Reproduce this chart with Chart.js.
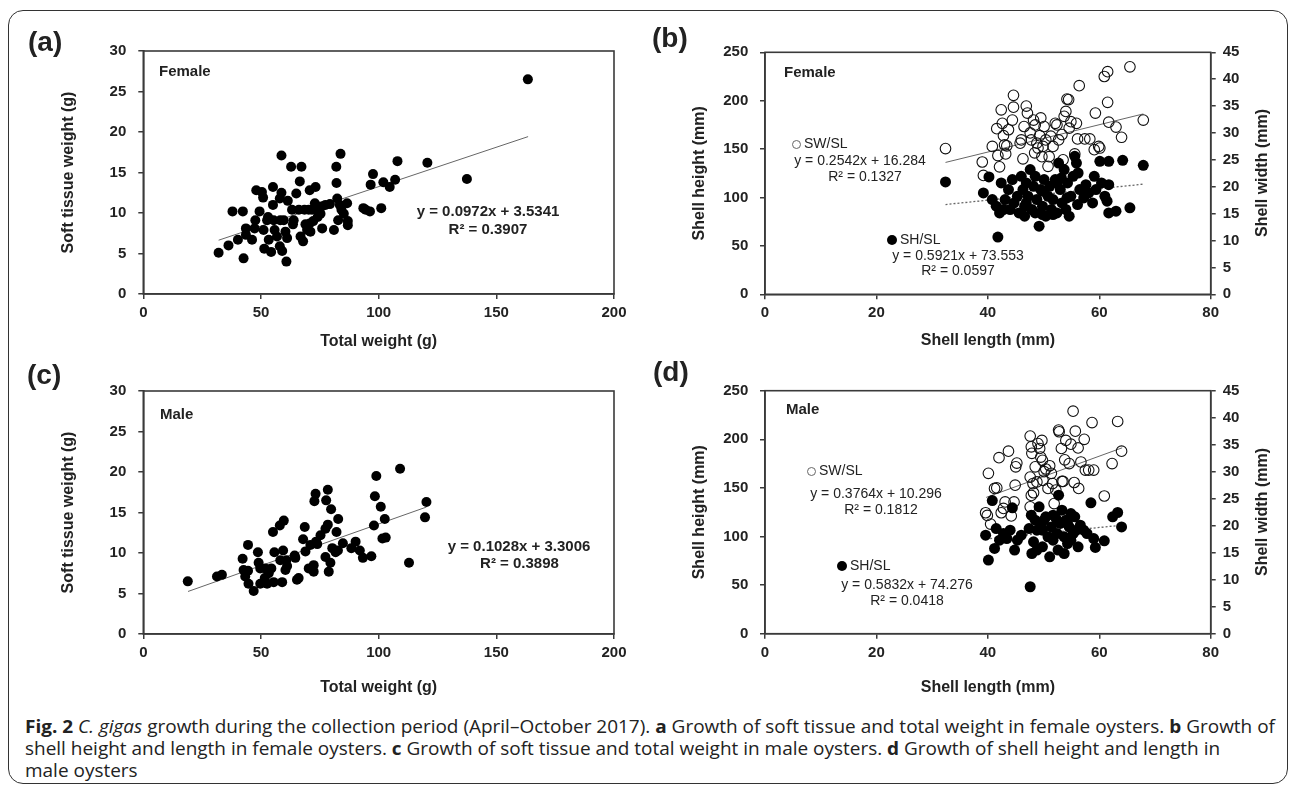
<!DOCTYPE html>
<html>
<head>
<meta charset="utf-8">
<script src="https://cdn.jsdelivr.net/npm/chart.js@4.4.0/dist/chart.umd.min.js"></script>
<style>
  html, body { margin: 0; padding: 0; background: #fff; }
  body { width: 1290px; height: 787px; position: relative; overflow: hidden; font-family: "Liberation Sans", Arial, sans-serif; color: #222; }
  canvas { position: absolute; }
  .frame { position: absolute; left: 8px; top: 10px; width: 1280px; height: 774px; box-sizing: border-box; border: 1.5px solid #333; border-radius: 15px; }
  .note { position: absolute; white-space: nowrap; line-height: 1; }
  .tag { font-size: 28px; font-weight: bold; }
  .sex { font-size: 15px; font-weight: bold; }
  .eqb { font-size: 15px; font-weight: bold; }
  .eq { font-size: 14px; }
  .mk { display: inline-block; width: 9px; height: 9px; border-radius: 50%; box-sizing: border-box; margin-right: 3px; vertical-align: -1px; }
  .mk.open { border: 1px solid #666; }
  .mk.fill { background: #000; width: 10px; height: 10px; }
  .rtitle { font-size: 16px; font-weight: bold; }
  .caption { position: absolute; left: 25px; top: 715px; font-family: "Open Sans", sans-serif; font-size: 18px; line-height: 22px; color: #222; white-space: nowrap; transform-origin: 0 0; }
</style>
</head>
<body>
<div class="frame"></div>
<canvas id="chartA" width="640" height="330" style="left:0px;top:30px"></canvas>
<canvas id="chartB" width="650" height="330" style="left:640px;top:30px"></canvas>
<canvas id="chartC" width="640" height="340" style="left:0px;top:370px"></canvas>
<canvas id="chartD" width="650" height="340" style="left:640px;top:370px"></canvas>
<div id="notes"></div>
<div class="caption" id="caption"><span id="capLine1"><b>Fig. 2</b> <i>C. gigas</i> growth during the collection period (April–October 2017). <b>a</b> Growth of soft tissue and total weight in female oysters. <b>b</b> Growth of</span><br>shell height and length in female oysters. <b>c</b> Growth of soft tissue and total weight in male oysters. <b>d</b> Growth of shell height and length in<br>male oysters</div>
<script>
// (a) female: total weight (g) vs soft tissue weight (g)
const femaleTotalWeight = [
  32, 36.2, 37.9, 40.2, 42.6, 42.3, 43.6, 43.6, 46.2, 47.3,
  47.6, 48, 49.4, 50.4, 50.9, 51.1, 51.4, 52.6, 53, 53.3,
  54.3, 55.1, 55.1, 55.4, 55.8, 56.8, 58, 58.7, 58.7, 58.2,
  58, 59, 59.7, 60.4, 60.8, 61.1, 61.4, 62.8, 63.2, 63.6,
  63.9, 65, 66.1, 66.5, 67.2, 66.8, 67.9, 68.5, 68.9, 69.6,
  70.3, 70.7, 70.7, 71, 71.7, 72.2, 73.2, 72.9, 73.6, 74.1,
  75.3, 75.7, 76, 77.4, 79.3, 81, 82, 82.1, 82.4, 82.8,
  83.5, 83.8, 84.2, 85.2, 86.6, 86.9, 86.9, 93.5, 94.5, 96.3,
  96.6, 97.6, 101.1, 102, 104.7, 107, 108, 120.7, 137.5, 163.4
];
const femaleSoftTissue = [
  5.1, 6.0, 10.2, 6.7, 4.4, 10.2, 8.1, 7.3, 6.7, 8.1,
  9.1, 12.8, 10.2, 12.6, 11.9, 7.9, 5.6, 9.1, 9.5, 6.7,
  5.2, 13.2, 11.0, 9.1, 7.9, 7.1, 11.8, 12.5, 17.1, 9.1,
  5.9, 5.3, 9.1, 7.7, 4.0, 6.9, 11.5, 15.7, 10.4, 8.6,
  9.1, 12.4, 10.4, 13.9, 15.7, 7.1, 6.5, 10.4, 8.6, 7.9,
  10.4, 12.8, 8.7, 7.7, 10.4, 9.0, 13.2, 11.2, 10.4, 9.5,
  9.9, 10.8, 8.1, 11.0, 11.1, 7.9, 15.7, 13.7, 11.8, 9.1,
  11.0, 17.3, 10.4, 9.9, 11.2, 9.0, 8.5, 10.6, 10.4, 10.2,
  13.5, 14.8, 10.6, 13.8, 13.2, 14.1, 16.4, 16.2, 14.2, 26.5
];
const femaleWeightFitX = [32, 163.5];
const femaleWeightFitY = [6.64, 19.43];

// (c) male: total weight (g) vs soft tissue weight (g)
const maleTotalWeight = [
  18.9, 31.3, 33.4, 42.2, 42.6, 44.5, 43.3, 44.7, 44.5, 46.9,
  48.7, 49, 49.7, 49.7, 51.6, 51.8, 52.6, 53.3, 54.4, 55.1,
  55.4, 55.7, 58, 59.7, 59, 58.2, 59.4, 60.4, 60.8, 61.1,
  64.3, 64.6, 65.3, 66, 67.9, 68.6, 68.9, 70.3, 71, 72.4,
  72.4, 72.7, 73.2, 73.4, 73.9, 75.3, 77.4, 77.7, 78.4, 78.4,
  77.4, 78.8, 79.5, 79.8, 80.3, 81.7, 82.1, 82.8, 82.7, 84.8,
  88.4, 90.2, 92, 93.3, 96.9, 98, 98.4, 99, 100.9, 101.6,
  102.6, 103, 109.1, 112.9, 119.7, 120.3
];
const maleSoftTissue = [
  6.5, 7.1, 7.3, 9.3, 7.9, 11.0, 7.1, 6.2, 7.8, 5.3,
  10.1, 8.8, 8.1, 6.2, 6.9, 8.1, 6.2, 7.5, 8.1, 12.6,
  6.4, 10.1, 13.4, 14.0, 6.4, 9.1, 10.3, 7.9, 9.1, 8.4,
  9.7, 9.4, 6.7, 6.9, 11.7, 13.2, 10.2, 8.1, 11.0, 8.5,
  7.7, 16.4, 17.3, 11.4, 11.1, 12.2, 13.0, 16.5, 17.8, 13.5,
  9.5, 7.7, 8.8, 15.4, 10.6, 10.1, 12.6, 14.2, 10.3, 11.2,
  10.6, 11.4, 10.3, 9.4, 9.6, 13.4, 17.0, 19.5, 15.7, 11.8,
  14.2, 11.9, 20.4, 8.8, 14.4, 16.3
];
const maleWeightFitX = [19, 120.3];
const maleWeightFitY = [5.25, 15.67];

// (b) female shell: SH/SL (left axis) and SW/SL (right axis)
const femaleShLength = [
  32.4, 39.2, 40.2, 41.8, 41.5, 42.1, 40.8, 42.8, 43.1, 42.4,
  43.7, 44.4, 44.7, 45.6, 46.0, 46.3, 46.6, 46.9, 47.2, 47.6,
  47.9, 48.2, 48.5, 48.8, 49.2, 49.5, 49.8, 50.1, 50.4, 50.8,
  51.1, 51.4, 51.7, 52.1, 52.4, 52.7, 53.0, 53.3, 53.7, 54.0,
  54.3, 54.6, 54.9, 55.3, 55.6, 55.9, 56.2, 56.5, 57.2, 58.1,
  58.8, 59.1, 59.4, 60.1, 61.4, 61.7, 61.7, 61.7, 63.0, 64.2,
  65.5, 67.9, 44.0, 45.3, 46.9, 49.8, 51.7, 52.4, 54.2, 56.1,
  57.6, 60.4, 61.0, 48.5, 46.6, 49.8, 53.2
];
const femaleShellHeight = [
  116.1, 104.7, 121.2, 59.1, 91.0, 84.1, 97.9, 87.6, 97.9, 115.0,
  108.2, 118.5, 94.4, 84.1, 121.9, 108.2, 80.7, 94.4, 101.3, 128.8,
  87.6, 111.6, 84.1, 97.9, 70.4, 108.2, 91.0, 118.5, 80.7, 101.3,
  111.6, 87.6, 97.9, 118.5, 84.1, 135.6, 108.2, 94.4, 128.8, 87.6,
  115.0, 80.7, 101.3, 121.9, 142.5, 135.6, 125.3, 108.2, 99.6, 104.7,
  94.4, 121.9, 108.2, 137.4, 96.2, 137.4, 113.3, 84.1, 85.9, 138.4,
  89.3, 133.2, 87.6, 101.3, 115.0, 106.5, 82.4, 115.0, 99.6, 92.7,
  113.3, 115.0, 101.3, 121.9, 91.0, 82.4, 120.2
];
const femaleSwLength = [
  32.4, 39.0, 39.2, 40.8, 41.6, 41.8, 42.1, 42.4, 42.6, 42.8,
  43.0, 43.2, 43.4, 43.7, 44.4, 44.6, 44.6, 45.8, 46.0, 46.3,
  46.5, 46.9, 47.1, 47.6, 47.8, 48.2, 48.4, 48.5, 48.8, 49.0,
  49.3, 49.5, 49.7, 49.9, 50.1, 50.4, 50.8, 51.0, 51.3, 51.7,
  52.1, 52.4, 52.7, 53.3, 53.5, 53.7, 54.0, 54.2, 54.5, 54.6,
  54.9, 55.6, 55.9, 56.1, 56.4, 57.4, 58.3, 59.3, 59.1, 59.9,
  60.1, 60.9, 61.5, 61.5, 61.7, 63.0, 64.0, 65.5, 67.9
];
const femaleShellWidth = [
  27.1, 24.6, 22.1, 27.5, 30.8, 25.8, 23.7, 34.3, 31.8, 29.5,
  27.8, 26.1, 27.6, 30.6, 32.4, 37.0, 34.8, 28.1, 28.7, 25.2,
  31.2, 35.0, 33.7, 30.0, 28.7, 32.4, 26.3, 31.5, 28.1, 27.2,
  29.5, 32.8, 25.6, 27.5, 31.2, 28.7, 23.8, 25.6, 29.4, 27.5,
  31.8, 31.5, 28.7, 29.7, 25.0, 33.1, 34.0, 36.3, 36.2, 30.9,
  32.1, 26.1, 31.8, 28.9, 38.8, 28.9, 28.9, 33.7, 26.9, 27.5,
  27.2, 40.5, 41.4, 35.7, 32.0, 31.1, 29.2, 42.3, 32.4
];
const femaleShellFitX = [32.4, 67.9];
const femaleShFitY = [92.74, 113.76];
const femaleSwFitY = [24.52, 33.54];

// (d) male shell: SH/SL (left axis) and SW/SL (right axis)
const maleShLength = [
  40.1, 39.6, 40.8, 41.2, 41.5, 42.1, 42.8, 43.4, 44.0, 44.4,
  44.8, 45.3, 46.0, 47.4, 47.6, 47.8, 47.9, 48.2, 48.5, 48.8,
  49.2, 49.5, 49.8, 50.1, 50.8, 51.1, 51.4, 51.7, 52.1, 52.4,
  52.6, 52.7, 53.0, 53.3, 53.7, 54.0, 54.3, 54.6, 54.9, 55.3,
  55.6, 55.9, 56.2, 56.6, 57.2, 57.8, 58.5, 59.0, 59.3, 60.9,
  62.4, 63.3, 64.0, 52.4, 53.7, 54.9, 48.8, 51.7, 54.3, 49.8,
  50.4
];
const maleShellHeight = [
  75.7, 101.4, 137.0, 87.7, 108.2, 96.2, 103.1, 97.9, 106.5, 129.5,
  86.0, 96.2, 101.4, 108.2, 48.3, 121.9, 82.5, 94.5, 116.8, 106.5,
  130.5, 109.9, 89.4, 116.8, 99.7, 79.1, 109.9, 96.2, 120.2, 103.1,
  86.0, 142.5, 113.4, 127.1, 99.7, 116.8, 92.8, 109.9, 123.6, 103.1,
  120.2, 106.5, 89.4, 111.6, 106.5, 103.1, 134.6, 97.9, 88.7, 95.5,
  120.2, 124.7, 109.9, 116.8, 82.5, 96.2, 86.0, 121.9, 113.4, 106.5,
  120.2
];
const maleSwLength = [
  39.6, 39.9, 40.1, 40.5, 41.2, 41.6, 42.0, 42.4, 42.8, 43.1,
  43.7, 44.2, 44.7, 44.9, 45.0, 45.2, 47.6, 47.6, 47.8, 47.9,
  47.6, 47.8, 48.1, 48.2, 48.5, 48.8, 49.0, 49.3, 49.5, 49.7,
  49.8, 49.9, 50.1, 50.4, 50.8, 51.1, 51.4, 51.6, 51.9, 52.2,
  52.7, 52.8, 53.2, 53.3, 53.5, 53.8, 54.0, 54.6, 54.9, 55.3,
  55.5, 55.7, 56.2, 56.3, 56.7, 57.3, 57.5, 58.1, 58.7, 59.0,
  60.9, 62.3, 63.3, 64.0
];
const maleShellWidth = [
  22.4, 21.9, 29.7, 20.3, 26.9, 27.0, 32.6, 22.4, 23.2, 24.4,
  33.8, 21.8, 24.4, 27.5, 30.9, 31.6, 23.5, 36.6, 34.6, 33.4,
  29.0, 25.6, 27.8, 26.1, 30.9, 28.1, 35.2, 34.3, 32.7, 35.8,
  32.1, 28.4, 30.0, 30.5, 26.9, 31.1, 29.7, 27.8, 24.1, 26.6,
  37.7, 37.4, 34.3, 28.2, 28.2, 32.2, 35.8, 31.5, 35.1, 41.2,
  28.0, 37.5, 34.4, 26.9, 31.8, 36.0, 30.3, 30.3, 39.1, 30.3,
  25.5, 31.5, 39.3, 33.8
];
const maleShellFitX = [39.7, 64.1];
const maleShFitY = [97.43, 111.66];
const maleSwFitY = [25.24, 34.42];

const AXIS = '#3a3a3a';
const FONT = '"Liberation Sans", Arial, sans-serif';
const tickFont = { family: FONT, size: 15, weight: 'bold' };
const titleFont = { family: FONT, size: 16, weight: 'bold' };

const pairs = (xs, ys) => xs.map((x, i) => ({ x, y: ys[i] }));

const frameBox = {
  id: 'frameBox',
  afterDraw(chart) {
    const { ctx, chartArea: a } = chart;
    ctx.save();
    ctx.strokeStyle = AXIS;
    ctx.lineWidth = 1.6;
    ctx.strokeRect(a.left, a.top, a.right - a.left, a.bottom - a.top);
    ctx.restore();
  }
};

function xAxis(max, step, text, height, titleBottom) {
  return {
    type: 'linear', position: 'bottom', min: 0, max,
    ticks: { stepSize: step, font: tickFont, color: '#222', padding: 5, maxRotation: 0, autoSkip: false },
    grid: { drawOnChartArea: false, tickLength: 5, color: AXIS, lineWidth: 1.5 },
    border: { color: AXIS, width: 1.6 },
    title: { display: true, text, font: titleFont, color: '#222', padding: { top: 0, bottom: titleBottom } },
    afterFit: (s) => { s.height = height; }
  };
}

function yAxis(max, step, text, width, titleLeft, pad) {
  return {
    type: 'linear', position: 'left', min: 0, max,
    ticks: { stepSize: step, font: tickFont, color: '#222', padding: pad, autoSkip: false },
    grid: { drawOnChartArea: false, tickLength: 5, color: AXIS, lineWidth: 1.5 },
    border: { color: AXIS, width: 1.6 },
    title: { display: true, text, font: titleFont, color: '#222', padding: { top: titleLeft, bottom: 0 } },
    afterFit: (s) => { s.width = width; }
  };
}

function rightAxis(width) {
  return {
    type: 'linear', position: 'right', min: 0, max: 45,
    ticks: { stepSize: 5, font: tickFont, color: '#222', padding: 7, autoSkip: false },
    grid: { drawOnChartArea: false, tickLength: 5, color: AXIS, lineWidth: 1.5 },
    border: { color: AXIS, width: 1.6 },
    afterFit: (s) => { s.width = width; }
  };
}

function dots(data, yAxisID, r) {
  return { data, yAxisID, pointRadius: r, pointHoverRadius: r, backgroundColor: '#000', borderColor: '#000', borderWidth: 0 };
}
function rings(data, yAxisID, r) {
  return { data, yAxisID, pointRadius: r, pointHoverRadius: r, backgroundColor: 'rgba(255,255,255,0)', borderColor: '#111', borderWidth: 1.1 };
}
function fit(data, yAxisID, dash) {
  return { data, yAxisID, showLine: true, pointRadius: 0, borderColor: '#666', borderWidth: dash ? 1.3 : 1, borderDash: dash ? [2, 2] : [] };
}

const baseOptions = {
  responsive: false,
  animation: false,
  devicePixelRatio: 1,
  plugins: { legend: { display: false }, tooltip: { enabled: false } },
  events: []
};

// (a)
new Chart(document.getElementById('chartA'), {
  type: 'scatter',
  data: { datasets: [
    dots(pairs(femaleTotalWeight, femaleSoftTissue), 'y', 5),
    fit(pairs(femaleWeightFitX, femaleWeightFitY), 'y', false)
  ] },
  options: { ...baseOptions,
    layout: { padding: { top: 21, right: 26, left: 0, bottom: 0 } },
    scales: {
      x: xAxis(200, 50, 'Total weight (g)', 66, 8.4),
      y: yAxis(30, 5, 'Soft tissue weight (g)', 143.3, 59.4, 12)
    }
  },
  plugins: [frameBox]
});

// (c)
new Chart(document.getElementById('chartC'), {
  type: 'scatter',
  data: { datasets: [
    dots(pairs(maleTotalWeight, maleSoftTissue), 'y', 5),
    fit(pairs(maleWeightFitX, maleWeightFitY), 'y', false)
  ] },
  options: { ...baseOptions,
    layout: { padding: { top: 20.3, right: 26, left: 0, bottom: 0 } },
    scales: {
      x: xAxis(200, 50, 'Total weight (g)', 76, 12.4),
      y: yAxis(30, 5, 'Soft tissue weight (g)', 143.3, 59.4, 12)
    }
  },
  plugins: [frameBox]
});

// (b)
new Chart(document.getElementById('chartB'), {
  type: 'scatter',
  data: { datasets: [
    dots(pairs(femaleShLength, femaleShellHeight), 'y', 5.5),
    rings(pairs(femaleSwLength, femaleShellWidth), 'y2', 5.3),
    fit(pairs(femaleShellFitX, femaleSwFitY), 'y2', false),
    fit(pairs(femaleShellFitX, femaleShFitY), 'y', true)
  ] },
  options: { ...baseOptions,
    layout: { padding: { top: 22.3, right: 0, left: 0, bottom: 0 } },
    scales: {
      x: xAxis(80, 20, 'Shell length (mm)', 65.7, 9.4),
      y: yAxis(250, 50, 'Shell height (mm)', 125, 50.4, 11.7),
      y2: rightAxis(79.3)
    }
  },
  plugins: [frameBox]
});

// (d)
new Chart(document.getElementById('chartD'), {
  type: 'scatter',
  data: { datasets: [
    dots(pairs(maleShLength, maleShellHeight), 'y', 5.5),
    rings(pairs(maleSwLength, maleShellWidth), 'y2', 5.3),
    fit(pairs(maleShellFitX, maleSwFitY), 'y2', false),
    fit(pairs(maleShellFitX, maleShFitY), 'y', true)
  ] },
  options: { ...baseOptions,
    layout: { padding: { top: 20.3, right: 0, left: 0, bottom: 0 } },
    scales: {
      x: xAxis(80, 20, 'Shell length (mm)', 76.3, 12.4),
      y: yAxis(250, 50, 'Shell height (mm)', 125, 50.4, 11.7),
      y2: rightAxis(79.3)
    }
  },
  plugins: [frameBox]
});

// text placed over the charts
const notes = document.getElementById('notes');
function note(html, cls, x, y, align) {
  const d = document.createElement('div');
  d.className = 'note ' + cls;
  d.innerHTML = html;
  d.style.left = x + 'px';
  d.style.top = y + 'px';
  d.style.transform = align === 'center' ? 'translate(-50%,-50%)' : 'translate(0,-50%)';
  notes.appendChild(d);
  return d;
}
note('(a)', 'tag', 28, 42);
note('(b)', 'tag', 652, 38);
note('(c)', 'tag', 27, 375);
note('(d)', 'tag', 653, 372);

note('Female', 'sex', 159, 70);
note('y = 0.0972x + 3.5341', 'eqb', 488, 210, 'center');
note('R² = 0.3907', 'eqb', 488, 228, 'center');

note('Male', 'sex', 160, 413);
note('y = 0.1028x + 3.3006', 'eqb', 519, 545, 'center');
note('R² = 0.3898', 'eqb', 519.5, 562, 'center');

note('Female', 'sex', 784, 71);
note('<span class="mk open"></span>SW/SL', 'eq', 792, 143);
note('y = 0.2542x + 16.284', 'eq', 860, 160, 'center');
note('R² = 0.1327', 'eq', 865, 176, 'center');
note('<span class="mk fill"></span>SH/SL', 'eq', 887, 239);
note('y = 0.5921x + 73.553', 'eq', 958, 255, 'center');
note('R² = 0.0597', 'eq', 958, 270, 'center');

note('Male', 'sex', 786, 408);
note('<span class="mk open"></span>SW/SL', 'eq', 807, 470);
note('y = 0.3764x + 10.296', 'eq', 876, 493, 'center');
note('R² = 0.1812', 'eq', 881, 509, 'center');
note('<span class="mk fill"></span>SH/SL', 'eq', 837, 565);
note('y = 0.5832x + 74.276', 'eq', 907, 584, 'center');
note('R² = 0.0418', 'eq', 907, 600, 'center');

note('Shell width (mm)', 'rtitle', 1262, 173, 'center').style.transform = 'translate(-50%,-50%) rotate(-90deg)';
note('Shell width (mm)', 'rtitle', 1262, 512, 'center').style.transform = 'translate(-50%,-50%) rotate(-90deg)';

// squeeze the caption so its first line spans the printed width
const line1 = document.getElementById('capLine1');
const cap = document.getElementById('caption');
const w = line1.getBoundingClientRect().width;
if (w > 0) cap.style.transform = 'scaleX(' + (1250 / w).toFixed(4) + ')';
</script>
</body>
</html>
